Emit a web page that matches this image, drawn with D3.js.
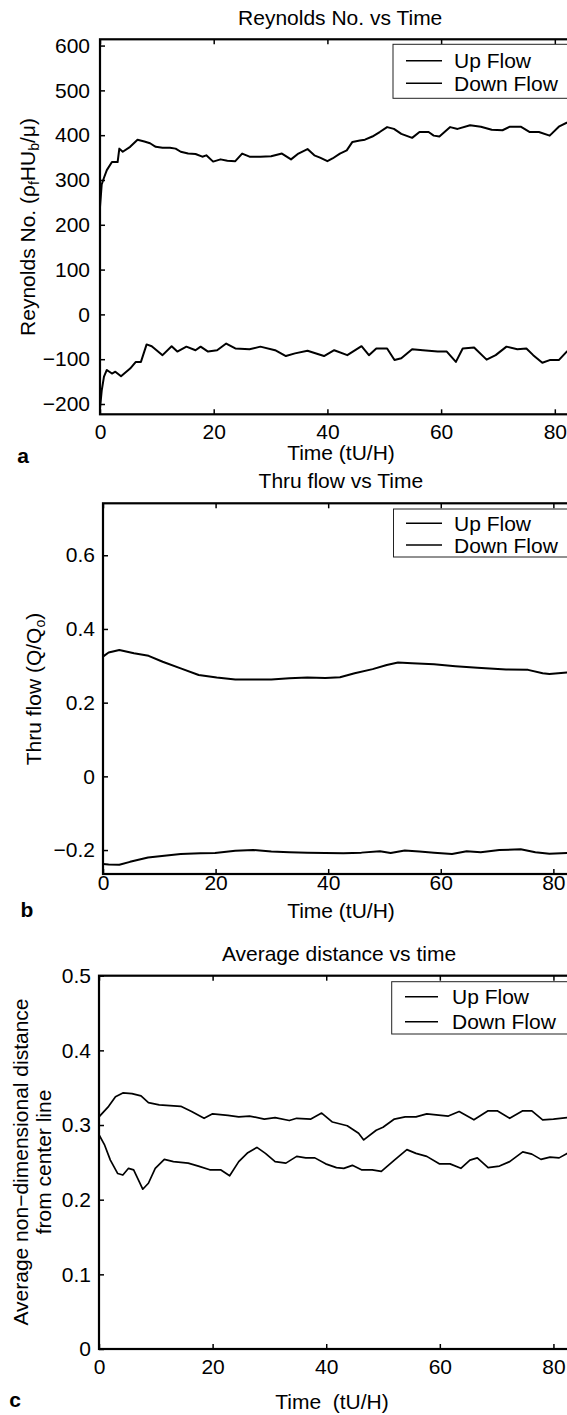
<!DOCTYPE html>
<html>
<head>
<meta charset="UTF-8">
<title>Reynolds No., Thru flow, Average distance vs Time</title>
<script src="https://d3js.org/d3.v7.min.js"></script>
<style>
  html, body { margin: 0; padding: 0; background: #fff; overflow: hidden; }
  svg { display: block; }
  text { font-family: "Liberation Sans", Arial, Helvetica, sans-serif; fill: #000; }
  .tick line { stroke: #000; stroke-width: 1.5; }
  .tick text { font-size: 21px; }
</style>
</head>
<body>
<svg id="chart" width="567" height="1415"></svg>
<script>
// ---- data ----
const xTicks = [0, 20, 40, 60, 80];

// a) Reynolds No.
const reUpT = [0, 0.3, 0.7, 1.2, 2.1, 3.1, 3.4, 4.0, 5.3, 6.6, 7.8, 8.8, 9.8, 11.0, 12.3, 13.3, 14.2, 15.5, 16.8, 18.0, 18.7, 19.9, 21.2, 22.4, 23.8, 25.0, 26.3, 28.2, 30.1, 32.0, 33.6, 34.9, 36.5, 37.7, 38.7, 40.0, 40.9, 42.2, 43.4, 44.4, 45.7, 46.6, 47.9, 49.2, 50.5, 51.7, 53.0, 54.9, 56.2, 57.8, 58.7, 59.7, 61.6, 62.9, 65.1, 67.0, 68.9, 70.8, 72.1, 74.0, 75.6, 77.2, 79.1, 80.7, 82.1, 84.5];
const reUp  = [240, 290, 305, 322, 340, 340, 370, 363, 374, 390, 386, 382, 374, 372, 372, 370, 363, 359, 358, 352, 355, 341, 346, 343, 342, 359, 352, 352, 353, 359, 346, 359, 369, 355, 350, 342, 348, 359, 366, 385, 388, 390, 397, 407, 418, 414, 403, 394, 407, 407, 399, 397, 418, 414, 422, 419, 412, 411, 419, 419, 407, 407, 399, 419, 428, 435];
const reDownT = [0, 0.3, 0.7, 1.2, 2.1, 2.7, 3.7, 5.3, 6.3, 7.2, 8.2, 9.1, 11.0, 12.6, 13.6, 15.2, 16.8, 17.7, 19.0, 20.6, 22.2, 23.8, 26.3, 28.2, 30.8, 32.7, 34.3, 36.5, 39.4, 41.2, 43.5, 46.0, 47.3, 48.6, 50.5, 51.8, 53.0, 54.9, 56.8, 59.4, 61.0, 62.6, 63.8, 65.8, 68.0, 69.6, 71.5, 73.4, 75.0, 76.2, 77.8, 79.1, 80.7, 82.1, 84.5];
const reDown  = [-210, -170, -139, -124, -132, -128, -138, -121, -106, -106, -67, -71, -91, -71, -83, -72, -80, -72, -83, -80, -65, -76, -78, -72, -80, -93, -87, -81, -93, -80, -91, -71, -91, -76, -76, -102, -98, -78, -80, -83, -83, -106, -76, -74, -101, -91, -72, -78, -76, -91, -108, -102, -102, -83, -75];

// b) Thru flow
const qUpT = [0, 1.0, 2.9, 5.5, 8.1, 10.6, 13.8, 17.0, 20.2, 23.5, 26.7, 29.9, 33.1, 36.3, 39.5, 42.1, 44.7, 47.9, 50.4, 52.4, 54.9, 58.8, 62.6, 66.5, 71.6, 75.5, 78.1, 79.3, 82.4, 84.5];
const qUp  = [0.325, 0.336, 0.343, 0.334, 0.327, 0.311, 0.293, 0.275, 0.268, 0.263, 0.263, 0.263, 0.266, 0.268, 0.267, 0.269, 0.280, 0.291, 0.302, 0.309, 0.307, 0.304, 0.299, 0.295, 0.290, 0.289, 0.280, 0.278, 0.282, 0.283];
const qDownT = [0, 1.0, 2.9, 4.8, 8.0, 11.3, 13.8, 17.3, 19.9, 23.5, 26.7, 29.9, 33.1, 36.3, 39.5, 42.7, 45.9, 49.2, 51.1, 53.6, 56.2, 58.8, 62.0, 64.6, 67.1, 70.4, 74.2, 76.8, 79.3, 82.4, 84.5];
const qDown  = [-0.238, -0.239, -0.240, -0.232, -0.220, -0.215, -0.211, -0.209, -0.208, -0.202, -0.200, -0.204, -0.206, -0.207, -0.208, -0.209, -0.207, -0.203, -0.208, -0.201, -0.204, -0.207, -0.211, -0.203, -0.206, -0.200, -0.198, -0.206, -0.210, -0.208, -0.207];

// c) Average distance
const dUpT = [0, 1.7, 2.9, 4.2, 5.8, 7.4, 8.7, 10.6, 12.5, 14.4, 16.3, 18.5, 20.0, 22.7, 24.6, 26.5, 29.1, 31.0, 33.5, 34.8, 37.3, 39.2, 41.1, 43.7, 45.7, 46.6, 48.8, 50.0, 52.0, 53.9, 55.8, 57.7, 60.2, 61.5, 63.4, 66.0, 68.5, 70.1, 72.3, 74.6, 76.2, 78.1, 80.0, 82.4, 84.5];
const dUp  = [0.311, 0.325, 0.338, 0.343, 0.342, 0.339, 0.330, 0.327, 0.326, 0.325, 0.318, 0.309, 0.315, 0.313, 0.311, 0.312, 0.308, 0.310, 0.306, 0.309, 0.308, 0.316, 0.304, 0.299, 0.289, 0.280, 0.293, 0.297, 0.308, 0.311, 0.311, 0.315, 0.313, 0.312, 0.318, 0.307, 0.319, 0.319, 0.309, 0.319, 0.319, 0.307, 0.308, 0.310, 0.311];
const dDownT = [0, 1.0, 2.0, 3.3, 4.2, 5.2, 6.1, 7.1, 7.7, 8.7, 9.9, 11.5, 13.1, 15.7, 17.5, 19.5, 21.4, 23.0, 24.6, 26.2, 27.8, 29.3, 31.0, 32.9, 34.8, 36.4, 38.0, 39.9, 41.8, 43.1, 44.6, 46.2, 48.1, 49.7, 52.0, 54.2, 55.8, 57.7, 59.9, 61.8, 63.7, 65.3, 66.6, 68.5, 70.5, 72.3, 74.6, 76.2, 77.8, 79.4, 81.0, 82.4, 84.5];
const dDown  = [0.287, 0.273, 0.253, 0.235, 0.233, 0.242, 0.240, 0.224, 0.214, 0.222, 0.242, 0.254, 0.251, 0.249, 0.245, 0.240, 0.240, 0.232, 0.251, 0.263, 0.270, 0.262, 0.251, 0.249, 0.258, 0.256, 0.256, 0.248, 0.243, 0.242, 0.246, 0.240, 0.240, 0.238, 0.253, 0.267, 0.262, 0.258, 0.248, 0.248, 0.242, 0.253, 0.256, 0.243, 0.245, 0.251, 0.264, 0.261, 0.254, 0.257, 0.256, 0.262, 0.264];

const svg = d3.select("#chart");

const panels = [
  {
    id: "a", left: 100, top: 39.3, width: 480.4, height: 375,
    xDomain: [0, 84.5], yDomain: [-223, 614],
    yTicks: [-200, -100, 0, 100, 200, 300, 400, 500, 600], yFormat: d => d3.format("d")(d),
    series: [[reUpT, reUp], [reDownT, reDown]], lineW: 2,
    title: "Reynolds No. vs Time", titleY: 17,
    xPad: 10, yPad: 10, xLabel: "Time (tU/H)", xLabelX: 341, xLabelY: 452,
    letterX: 23, letterY: 457,
    legend: { left: 393, top: 44.3, bottom: 98.3, upY: 60.7, downY: 83.3, lx1: 406, lx2: 442, tx: 454 }
  },
  {
    id: "b", left: 103, top: 503.3, width: 475.7, height: 370.7,
    xDomain: [0, 84.5], yDomain: [-0.265, 0.741],
    yTicks: [-0.2, 0, 0.2, 0.4, 0.6], yFormat: d => d === 0 ? "0" : d3.format(".1f")(d),
    series: [[qUpT, qUp], [qDownT, qDown]], lineW: 2,
    title: "Thru flow vs Time", titleY: 480,
    xPad: 1.5, yPad: 8, xLabel: "Time (tU/H)", xLabelX: 341, xLabelY: 910.5,
    letterX: 27, letterY: 911,
    legend: { left: 393.5, top: 509, bottom: 557, upY: 523.3, downY: 545, lx1: 406, lx2: 442, tx: 454 }
  },
  {
    id: "c", left: 99, top: 975.7, width: 480, height: 373.3,
    xDomain: [0, 84.5], yDomain: [0, 0.5],
    yTicks: [0, 0.1, 0.2, 0.3, 0.4, 0.5], yFormat: d => d === 0 ? "0" : d3.format(".1f")(d),
    series: [[dUpT, dUp], [dDownT, dDown]], lineW: 1.7,
    title: "Average distance vs time", titleY: 953,
    xPad: 9.6, yPad: 8, xLabel: "Time\u00a0\u00a0(tU/H)", xLabelX: 332, xLabelY: 1401.7,
    letterX: 15, letterY: 1401,
    legend: { left: 391.7, top: 981.7, bottom: 1034, upY: 996.7, downY: 1021.7, lx1: 405, lx2: 438, tx: 452 }
  }
];

panels.forEach(p => {
  const g = svg.append("g").attr("transform", `translate(${p.left},${p.top})`);
  const x = d3.scaleLinear().domain(p.xDomain).range([0, p.width]);
  const y = d3.scaleLinear().domain(p.yDomain).range([p.height, 0]);

  g.append("clipPath").attr("id", "clip-" + p.id)
    .append("rect").attr("width", p.width).attr("height", p.height);

  // inward ticks on all four sides
  g.append("g").attr("transform", `translate(0,${p.height})`)
    .call(d3.axisBottom(x).tickValues(xTicks).tickSize(-5).tickPadding(p.xPad).tickFormat(d3.format("d")))
    .call(a => a.select(".domain").remove());
  g.append("g")
    .call(d3.axisTop(x).tickValues(xTicks).tickSize(-5).tickFormat(""))
    .call(a => a.select(".domain").remove());
  g.append("g")
    .call(d3.axisLeft(y).tickValues(p.yTicks).tickSize(-5).tickPadding(p.yPad).tickFormat(p.yFormat))
    .call(a => a.select(".domain").remove());
  g.append("g").attr("transform", `translate(${p.width},0)`)
    .call(d3.axisRight(y).tickValues(p.yTicks).tickSize(-5).tickFormat(""))
    .call(a => a.select(".domain").remove());
  g.selectAll(".tick text").attr("font-family", null).attr("font-size", null);

  // curves
  const line = d3.line().x(d => x(d[0])).y(d => y(d[1]));
  p.series.forEach(([ts, vs]) => {
    g.append("path")
      .datum(ts.map((t, i) => [t, vs[i]]))
      .attr("clip-path", `url(#clip-${p.id})`)
      .attr("fill", "none").attr("stroke", "#000")
      .attr("stroke-width", p.lineW).attr("stroke-linejoin", "round")
      .attr("d", line);
  });

  // frame
  g.append("rect").attr("width", p.width).attr("height", p.height)
    .attr("fill", "none").attr("stroke", "#000").attr("stroke-width", 2.2);

  // legend
  const L = p.legend;
  svg.append("rect").attr("x", L.left).attr("y", L.top)
    .attr("width", p.left + p.width - 6 - L.left).attr("height", L.bottom - L.top)
    .attr("fill", "#fff").attr("stroke", "#222").attr("stroke-width", 1);
  [["Up Flow", L.upY], ["Down Flow", L.downY]].forEach(([name, ly]) => {
    svg.append("line").attr("x1", L.lx1).attr("x2", L.lx2).attr("y1", ly).attr("y2", ly)
      .attr("stroke", "#000").attr("stroke-width", 1.6);
    svg.append("text").attr("x", L.tx).attr("y", ly).attr("dy", "0.36em")
      .attr("font-size", 21).text(name);
  });

  // titles and labels
  svg.append("text").attr("x", p.left + p.width / 2).attr("y", p.titleY).attr("dy", "0.36em")
    .attr("text-anchor", "middle").attr("font-size", 21).text(p.title);
  svg.append("text").attr("x", p.xLabelX).attr("y", p.xLabelY).attr("dy", "0.36em")
    .attr("text-anchor", "middle").attr("font-size", 21).text(p.xLabel);
  svg.append("text").attr("x", p.letterX).attr("y", p.letterY).attr("dy", "0.3em")
    .attr("text-anchor", "middle").attr("font-size", 21).attr("font-weight", "bold").text(p.id);
});

// y-axis labels (rotated)
function yLabel(cx, cy, parts) {
  const t = svg.append("text")
    .attr("transform", `translate(${cx},${cy}) rotate(-90)`)
    .attr("text-anchor", "middle").attr("dy", "0.36em").attr("font-size", 21);
  parts.forEach(([s, sub]) => {
    const ts = t.append("tspan").text(s);
    if (sub) ts.attr("font-size", 14).attr("baseline-shift", "-25%");
  });
}
yLabel(27, 227, [["Reynolds No. (ρ"], ["f", true], ["HU"], ["b", true], ["/μ)"]]);
yLabel(33, 689, [["Thru flow (Q/Q"], ["o", true], [")"]]);
yLabel(20, 1162, [["Average non\u2212dimensional distance"]]);
yLabel(43, 1162, [["from center line"]]);
</script>
</body>
</html>
